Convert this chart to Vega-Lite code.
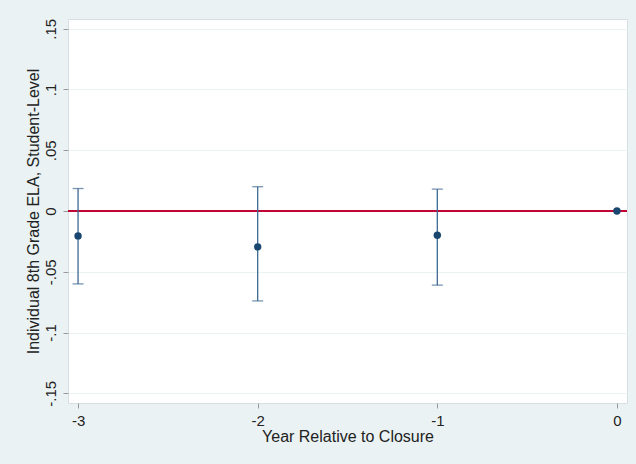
{
  "$schema": "https://vega.github.io/schema/vega-lite/v6.json",
  "width": 559,
  "height": 384,
  "autosize": {"type": "none"},
  "padding": {"left": 68, "top": 19, "right": 9, "bottom": 61},
  "background": "#eaf2f3",
  "config": {
    "view": {"fill": "white", "stroke": "#d8dfe2", "strokeWidth": 1},
    "font": "Liberation Sans",
    "axis": {
      "labelFont": "Liberation Sans",
      "titleFont": "Liberation Sans",
      "labelFontSize": 15,
      "titleFontSize": 16,
      "labelColor": "#222222",
      "titleColor": "#222222",
      "titleFontWeight": "normal",
      "tickColor": "#9a9a9a",
      "tickSize": 5,
      "domain": false
    }
  },
  "data": {
    "values": [
      {"year": -3, "est": -0.0205, "lo": -0.060, "hi": 0.0185},
      {"year": -2, "est": -0.0295, "lo": -0.074, "hi": 0.020},
      {"year": -1, "est": -0.020, "lo": -0.061, "hi": 0.018},
      {"year": 0, "est": 0.0, "lo": null, "hi": null}
    ]
  },
  "encoding": {
    "x": {
      "field": "year",
      "type": "quantitative",
      "scale": {"domain": [-3.056, 0.056], "nice": false, "zero": false},
      "axis": {
        "values": [-3, -2, -1, 0],
        "labelExpr": "toString(datum.value)",
        "grid": false,
        "title": "Year Relative to Closure",
        "titlePadding": 0,
        "labelPadding": 5
      }
    }
  },
  "layer": [
    {
      "mark": {"type": "rule", "color": "#c10534", "strokeWidth": 1.5},
      "encoding": {"y": {"datum": 0, "type": "quantitative"}, "x": null}
    },
    {
      "transform": [{"filter": "datum.lo != null"}],
      "mark": {"type": "rule", "color": "#3f6a92", "strokeWidth": 1.3},
      "encoding": {
        "y": {
          "field": "lo",
          "type": "quantitative",
          "scale": {"domain": [-0.158, 0.158], "nice": false, "zero": false},
          "axis": {
            "values": [-0.15, -0.1, -0.05, 0, 0.05, 0.1, 0.15],
            "labelExpr": "replace(replace(format(datum.value, '.2~f'), '\u2212', '-'), '0.', '.')",
            "labelAngle": 270,
            "labelAlign": "center",
            "labelBaseline": "bottom",
            "labelPadding": 5,
            "grid": true,
            "gridColor": "#eaf2f3",
            "gridWidth": 1,
            "title": "Individual 8th Grade ELA, Student-Level",
            "titlePadding": 2
          }
        },
        "y2": {"field": "hi"}
      }
    },
    {
      "transform": [{"filter": "datum.lo != null"}],
      "mark": {"type": "tick", "color": "#3f6a92", "thickness": 1.3, "size": 11, "orient": "horizontal"},
      "encoding": {"y": {"field": "lo", "type": "quantitative"}}
    },
    {
      "transform": [{"filter": "datum.hi != null"}],
      "mark": {"type": "tick", "color": "#3f6a92", "thickness": 1.3, "size": 11, "orient": "horizontal"},
      "encoding": {"y": {"field": "hi", "type": "quantitative"}}
    },
    {
      "mark": {"type": "point", "filled": true, "color": "#1a476f", "opacity": 1, "size": 55},
      "encoding": {"y": {"field": "est", "type": "quantitative"}}
    }
  ]
}
